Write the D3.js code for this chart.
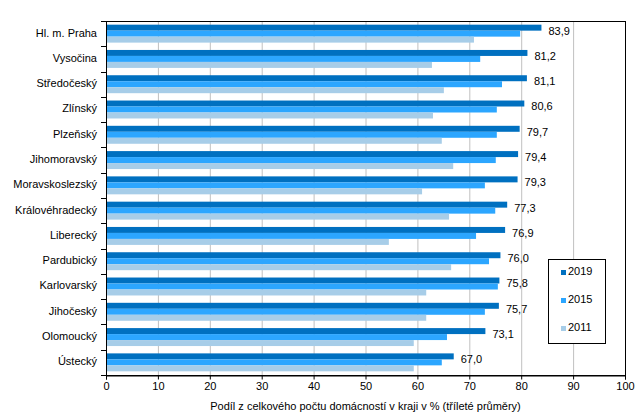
<!DOCTYPE html>
<html><head><meta charset="utf-8">
<script src="https://cdn.jsdelivr.net/npm/d3@7/dist/d3.min.js"></script>
<style>body{margin:0;background:#fff}svg{display:block}text{font-family:"Liberation Sans",Arial,sans-serif;}</style>
</head><body>
<svg id="c" width="643" height="418"></svg>
<script>
const categories = ["Hl. m. Praha","Vysočina","Středočeský","Zlínský","Plzeňský","Jihomoravský","Moravskoslezský","Královéhradecký","Liberecký","Pardubický","Karlovarský","Jihočeský","Olomoucký","Ústecký"];
const series = ["2019","2015","2011"];
const v2019 = [83.9,81.2,81.1,80.6,79.7,79.4,79.3,77.3,76.9,76.0,75.8,75.7,73.1,67.0];
const v2015 = [79.8,72.1,76.3,75.3,75.3,75.1,73.0,75.0,71.3,73.8,75.5,73.0,65.7,64.7];
const v2011 = [70.9,62.8,65.1,63.0,64.7,66.9,60.9,66.1,54.5,66.5,61.7,61.7,59.3,59.3];
const xTicks = [0,10,20,30,40,50,60,70,80,90,100];
const colors = ["#0070C0","#2CA6FF","#A7CDE8"];
const axisTitle = "Podíl  z celkového počtu domácností v kraji v % (tříleté průměry)";

const svg = d3.select("#c");
const L=106, R=625, T=21, B=375;
const x = d3.scaleLinear().domain([0,100]).range([L,R]);
const y = d3.scaleBand().domain(categories).range([T,B]).paddingInner(0.29).paddingOuter(0.145);
const sub = d3.scaleBand().domain(series).range([0,y.bandwidth()]);
const values = [v2019,v2015,v2011];

// grid
svg.append("g").selectAll("line").data(xTicks.slice(1,-1)).join("line")
  .attr("x1",d=>x(d)+0.5).attr("x2",d=>x(d)+0.5).attr("y1",T).attr("y2",B)
  .attr("stroke","#c0c0c0").attr("stroke-width",1);

// bars
series.forEach((s,si)=>{
  svg.append("g").selectAll("rect").data(categories).join("rect")
    .attr("x",x(0)).attr("y",d=>y(d)+sub(s))
    .attr("width",(d,i)=>x(values[si][i])-x(0))
    .attr("height",sub.bandwidth())
    .attr("fill",colors[si]);
});

// labels
svg.append("g").selectAll("text").data(categories).join("text")
  .attr("x",(d,i)=>x(v2019[i])+7)
  .attr("y",d=>y(d)+sub("2019")+sub.bandwidth()+1)
  .attr("dominant-baseline","middle")
  .attr("font-size",11).attr("fill","#000")
  .text((d,i)=>v2019[i].toFixed(1).replace(".",","));

// frame
svg.append("rect").attr("x",L+0.5).attr("y",T+0.5).attr("width",R-L).attr("height",B-T)
  .attr("fill","none").attr("stroke","#000").attr("stroke-width",1);

// x axis
const xa = svg.append("g").attr("transform",`translate(0,${B+0.5})`)
  .call(d3.axisBottom(x).tickValues(xTicks).tickSize(4).tickPadding(3).tickFormat(d3.format("d")));
xa.selectAll("text").attr("font-size",11).attr("font-family","Liberation Sans, Arial, sans-serif").attr("fill","#000");
xa.select(".domain").attr("stroke","#000");
xa.selectAll(".tick line").attr("stroke","#000");

// y axis: ticks at band boundaries
const bounds = categories.map((c,i)=>T + i*(B-T)/categories.length).concat([B]);
svg.append("g").selectAll("line").data(bounds).join("line")
  .attr("x1",L-5).attr("x2",L).attr("y1",d=>Math.round(d)+0.5).attr("y2",d=>Math.round(d)+0.5)
  .attr("stroke","#000");
svg.append("g").selectAll("text").data(categories).join("text")
  .attr("x",L-9).attr("y",d=>y(d)+y.bandwidth()/2)
  .attr("text-anchor","end").attr("dominant-baseline","middle")
  .attr("font-size",11).attr("fill","#000").text(d=>d);

// axis title
svg.append("text").attr("x",(L+R)/2).attr("y",410).attr("text-anchor","middle")
  .attr("font-size",11).attr("fill","#000").text(axisTitle);

// legend
const lg = svg.append("g");
lg.append("rect").attr("x",548.5).attr("y",259.5).attr("width",57).attr("height",84)
  .attr("fill","#fff").attr("stroke","#000");
series.forEach((s,i)=>{
  const yy = 272 + i*28;
  lg.append("rect").attr("x",561).attr("y",yy-2).attr("width",5).attr("height",5).attr("fill",colors[i]);
  lg.append("text").attr("x",568).attr("y",yy).attr("dominant-baseline","middle")
    .attr("font-size",11).attr("fill","#000").text(s);
});
</script>
</body></html>
